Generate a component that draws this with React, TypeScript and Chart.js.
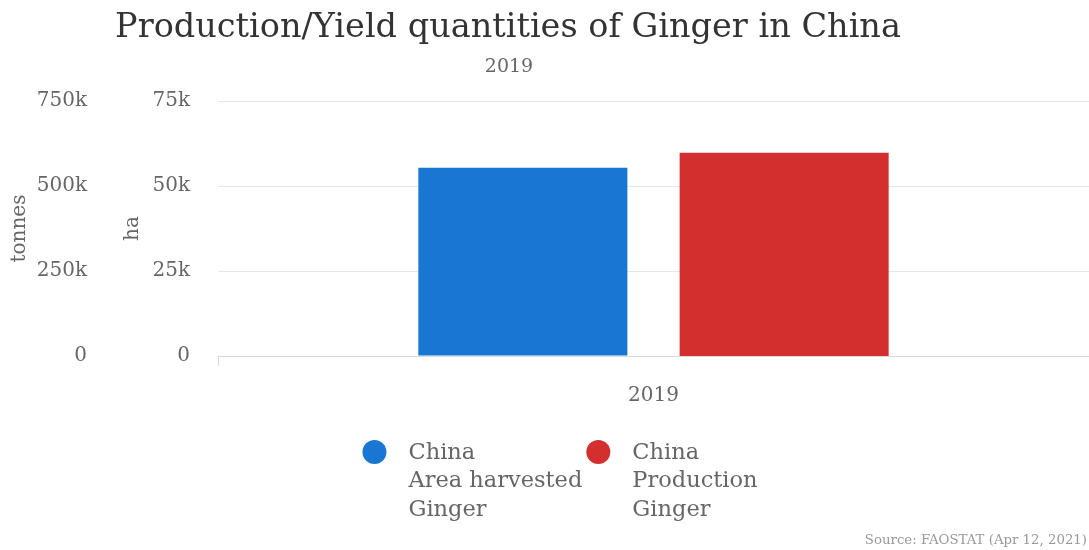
import React, { useEffect, useRef } from 'react';
import { Chart, registerables } from 'chart.js';

Chart.register(...registerables);

const categories = ['2019'];
const areaHarvestedHa = [55400];
const productionTonnes = [598000];
const seriesLabels = [
  ['China', 'Area harvested', 'Ginger'],
  ['China', 'Production', 'Ginger'],
];
const seriesColors = ['#1976d2', '#d32f2f'];
const tonnesTicks = [0, 250000, 500000, 750000];
const haTicks = [0, 25000, 50000, 75000];
const titleText = 'Production/Yield quantities of Ginger in China';
const subtitleText = '2019';
const sourceText = 'Source: FAOSTAT (Apr 12, 2021)';

const FONT = "'DejaVu Serif', serif";

const fmt = (v: number) => (v === 0 ? '0' : v / 1000 + 'k');

const decorPlugin = {
  id: 'decor',
  afterDraw(chart: any) {
    const ctx = chart.ctx as CanvasRenderingContext2D;
    ctx.save();
    // title
    ctx.textAlign = 'center';
    ctx.textBaseline = 'middle';
    ctx.fillStyle = '#333333';
    ctx.font = `33.5px ${FONT}`;
    ctx.fillText(titleText, 508, 28);
    ctx.fillStyle = '#666666';
    ctx.font = `19px ${FONT}`;
    ctx.fillText(subtitleText, 509, 67);

    // legend
    ctx.font = `22.5px ${FONT}`;
    const lineH = 28.5;
    const r = 12;
    const textOffset = 46;
    const itemGap = 4;
    const widths = seriesLabels.map((lines) =>
      Math.max(...lines.map((l) => ctx.measureText(l).width))
    );
    const total =
      widths.reduce((a, w) => a + textOffset + w, 0) + itemGap * (widths.length - 1);
    let x = 560 - total / 2;
    const y0 = 453;
    seriesLabels.forEach((lines, i) => {
      ctx.fillStyle = seriesColors[i];
      ctx.beginPath();
      ctx.arc(x + r, y0 - 1, r, 0, Math.PI * 2);
      ctx.fill();
      ctx.fillStyle = '#666666';
      ctx.textAlign = 'left';
      lines.forEach((l, j) => ctx.fillText(l, x + textOffset, y0 + j * lineH));
      x += textOffset + widths[i] + itemGap;
    });

    // source
    ctx.font = `13.3px ${FONT}`;
    ctx.fillStyle = '#999999';
    ctx.textAlign = 'right';
    ctx.fillText(sourceText, 1087, 541);
    ctx.restore();
  },
};

export default function App() {
  const ref = useRef<HTMLCanvasElement | null>(null);
  useEffect(() => {
    document.body.style.margin = '0';
    if (!ref.current) return;
    const chart = new Chart(ref.current, {
      type: 'bar',
      data: {
        labels: categories,
        datasets: [
          {
            label: seriesLabels[0].join(' '),
            data: areaHarvestedHa,
            backgroundColor: seriesColors[0],
            yAxisID: 'ha',
            categoryPercentage: 0.6,
            barPercentage: 0.8,
          },
          {
            label: seriesLabels[1].join(' '),
            data: productionTonnes,
            backgroundColor: seriesColors[1],
            yAxisID: 'tonnes',
            categoryPercentage: 0.6,
            barPercentage: 0.8,
          },
        ],
      },
      options: {
        animation: false,
        responsive: true,
        maintainAspectRatio: false,
        layout: { padding: { top: 101, bottom: 124, left: 0, right: 0 } },
        plugins: {
          legend: { display: false },
          title: { display: false },
          tooltip: { enabled: false },
        },
        scales: {
          x: {
            offset: true,
            grid: {
              display: true,
              drawOnChartArea: false,
              drawTicks: true,
              tickLength: 10,
              color: '#d8d8d8',
              offset: true,
            },
            border: { display: true, color: '#d8d8d8' },
            ticks: {
              color: '#666666',
              padding: 18,
              font: { family: FONT, size: 20 },
            },
          },
          tonnes: {
            type: 'linear',
            position: 'left',
            weight: 10,
            min: 0,
            max: 750000,
            afterBuildTicks: (s: any) => {
              s.ticks = tonnesTicks.map((v) => ({ value: v }));
            },
            afterFit: (s: any) => {
              s.width = 113;
            },
            grid: { display: false, drawTicks: false },
            border: { display: false },
            ticks: {
              color: '#666666',
              padding: 26,
              font: { family: FONT, size: 20 },
              callback: (v: any) => fmt(Number(v)),
            },
            title: {
              display: true,
              text: 'tonnes',
              color: '#666666',
              font: { family: FONT, size: 20 },
              padding: { top: 8, bottom: 4 },
            },
          },
          ha: {
            type: 'linear',
            position: 'left',
            weight: 0,
            min: 0,
            max: 75000,
            afterBuildTicks: (s: any) => {
              s.ticks = haTicks.map((v) => ({ value: v }));
            },
            afterFit: (s: any) => {
              s.width = 105;
            },
            grid: { display: true, drawTicks: false, color: '#e6e6e6' },
            border: { display: false },
            ticks: {
              color: '#666666',
              padding: 28,
              font: { family: FONT, size: 20 },
              callback: (v: any) => fmt(Number(v)),
            },
            title: {
              display: true,
              text: 'ha',
              color: '#666666',
              font: { family: FONT, size: 20 },
              padding: { top: 8, bottom: 4 },
            },
          },
        },
      },
      plugins: [decorPlugin],
    });
    return () => chart.destroy();
  }, []);
  return (
    <div style={{ position: 'absolute', left: 0, top: 0, width: 1089, height: 550 }}>
      <canvas ref={ref} />
    </div>
  );
}
